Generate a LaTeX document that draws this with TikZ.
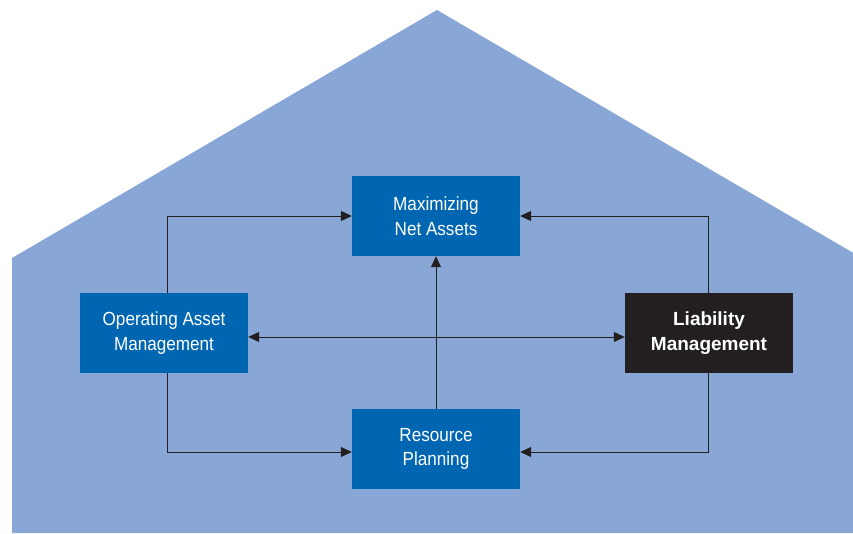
\documentclass[tikz,border=0pt]{standalone}
\usepackage{fontspec}
\setmainfont{Liberation Sans}[FakeStretch=0.9,BoldFeatures={FakeStretch=1.0}]
\usetikzlibrary{positioning,arrows.meta,calc}

\definecolor{housebg}{HTML}{88A7D6}
\definecolor{boxblue}{HTML}{0066B2}
\definecolor{boxblack}{HTML}{231F20}

\begin{document}
\begin{tikzpicture}[x=1pt,y=-1pt,
  areanode/.style={rectangle,fill=#1,text=white,inner sep=0pt,align=center,minimum width=168pt,minimum height=80pt,font=\fontsize{19}{24.5}\selectfont},
  arr/.style={-{Triangle[length=11pt,width=10pt]},line width=1pt,draw=boxblack},
  darr/.style={{Triangle[length=11pt,width=10pt]}-{Triangle[length=11pt,width=10pt]},line width=1pt,draw=boxblack},
]
\useasboundingbox (0,0) rectangle (853,533);
\clip (0,0) rectangle (853,533);

% === house background ===
\fill[housebg] (12,533) -- (12,258) -- (437,10) -- (862,258) -- (862,533) -- cycle;

% === areas ===
\node[areanode=boxblue] (max) at (436,216) {Maximizing\\Net Assets};
\node[areanode=boxblue] (oam) at (164,333) {Operating Asset\\Management};
\node[areanode=boxblack,font=\fontsize{19}{24.5}\selectfont\bfseries] (liab) at (709,333) {Liability\\Management};
\node[areanode=boxblue] (res) at (436,449) {Resource\\Planning};

% === connectors ===
\draw[arr] ($(oam.north)+(3,0)$) |- (max.west);
\draw[arr] ($(liab.north)-(1,0)$) |- (max.east);
\draw[arr] ($(oam.south)+(3,0)$) |- ($(res.west)+(0,3)$);
\draw[arr] ($(liab.south)-(1,0)$) |- ($(res.east)+(0,3)$);
\draw[arr] (res.north) -- (max.south);
\draw[darr] ($(oam.east)+(0,4)$) -- ($(liab.west)+(0,4)$);

\end{tikzpicture}
\end{document}
